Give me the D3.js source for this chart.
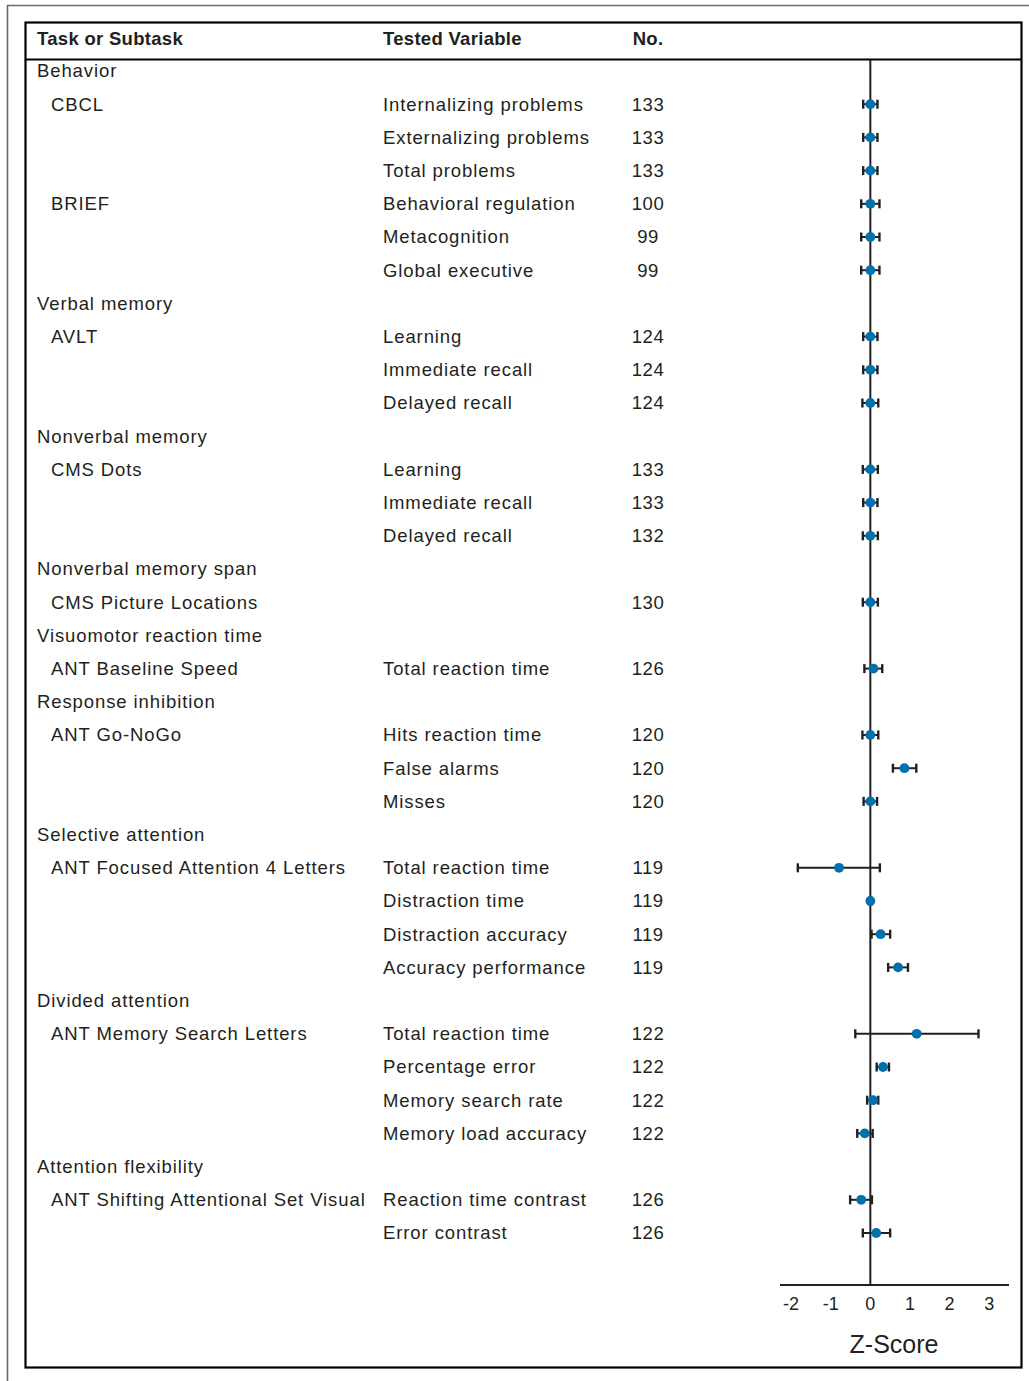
<!DOCTYPE html>
<html>
<head>
<meta charset="utf-8">
<script src="https://cdn.jsdelivr.net/npm/d3@7"></script>
<style>
  html, body { margin: 0; padding: 0; background: #fff; }
  svg { display: block; }
  text { font-family: "Liberation Sans", Arial, Helvetica, sans-serif; fill: #231f20; }
</style>
</head>
<body>
<script>
// Domains and how many tested rows belong to each
const domains = ["Behavior", "Verbal memory", "Nonverbal memory", "Nonverbal memory span",
  "Visuomotor reaction time", "Response inhibition", "Selective attention",
  "Divided attention", "Attention flexibility"];
const domainSizes = [6, 3, 3, 1, 1, 3, 4, 4, 2];

// Task (subtask) name, shown on the first row of each task
const tasks = ["CBCL", "", "", "BRIEF", "", "",
  "AVLT", "", "",
  "CMS Dots", "", "",
  "CMS Picture Locations",
  "ANT Baseline Speed",
  "ANT Go-NoGo", "", "",
  "ANT Focused Attention 4 Letters", "", "", "",
  "ANT Memory Search Letters", "", "", "",
  "ANT Shifting Attentional Set Visual", ""];

const variables = ["Internalizing problems", "Externalizing problems", "Total problems",
  "Behavioral regulation", "Metacognition", "Global executive",
  "Learning", "Immediate recall", "Delayed recall",
  "Learning", "Immediate recall", "Delayed recall",
  "",
  "Total reaction time",
  "Hits reaction time", "False alarms", "Misses",
  "Total reaction time", "Distraction time", "Distraction accuracy", "Accuracy performance",
  "Total reaction time", "Percentage error", "Memory search rate", "Memory load accuracy",
  "Reaction time contrast", "Error contrast"];

const counts = [133, 133, 133, 100, 99, 99,
  124, 124, 124,
  133, 133, 132,
  130,
  126,
  120, 120, 120,
  119, 119, 119, 119,
  122, 122, 122, 122,
  126, 126];

// Z-score estimates with 95% confidence limits
const zMean = [0, 0, 0, 0, 0, 0,
  0, 0, 0,
  0, 0, 0,
  0,
  0.08,
  0, 0.86, 0,
  -0.79, 0, 0.26, 0.70,
  1.17, 0.32, 0.07, -0.14,
  -0.23, 0.15];
const zLower = [-0.18, -0.18, -0.18, -0.23, -0.23, -0.23,
  -0.18, -0.18, -0.20,
  -0.19, -0.18, -0.19,
  -0.19,
  -0.15,
  -0.20, 0.57, -0.17,
  -1.83, -0.03, 0.03, 0.45,
  -0.38, 0.16, -0.08, -0.33,
  -0.51, -0.19];
const zUpper = [0.18, 0.18, 0.18, 0.23, 0.23, 0.23,
  0.18, 0.18, 0.20,
  0.19, 0.18, 0.19,
  0.19,
  0.30,
  0.20, 1.16, 0.17,
  0.24, 0.03, 0.50, 0.95,
  2.73, 0.47, 0.20, 0.06,
  0.04, 0.50];

const zTicks = [-2, -1, 0, 1, 2, 3];
const headers = ["Task or Subtask", "Tested Variable", "No."];

// Build the table layout: a header row per domain followed by its tested rows
const rows = [];
let k = 0;
domains.forEach((dname, di) => {
  rows.push({ type: "domain", label: dname });
  for (let j = 0; j < domainSizes[di]; j++, k++) {
    rows.push({ type: "data", task: tasks[k], variable: variables[k], n: counts[k],
      mean: zMean[k], lo: zLower[k], hi: zUpper[k] });
  }
});

const W = 1029, H = 1381;
const svg = d3.select("body").append("svg").attr("width", W).attr("height", H);

// Outer page rules
svg.append("path")
  .attr("d", "M7.5,1381 V5.5 H1029")
  .attr("fill", "none").attr("stroke", "#6b6b66").attr("stroke-width", 1.6);

// Figure frame
svg.append("rect")
  .attr("x", 25.5).attr("y", 22.5).attr("width", 996).attr("height", 1345)
  .attr("fill", "none").attr("stroke", "#000").attr("stroke-width", 2.2);
svg.append("line")
  .attr("x1", 25).attr("x2", 1022).attr("y1", 59.5).attr("y2", 59.5)
  .attr("stroke", "#000").attr("stroke-width", 2.2);

// Column headers
const colX = { task: 37, sub: 51, variable: 383, n: 648 };
const hdr = svg.append("g").attr("font-weight", "bold").attr("font-size", 18.5)
  .style("letter-spacing", "0.3px");
hdr.append("text").attr("x", colX.task).attr("y", 39).attr("dy", "0.35em").text(headers[0]);
hdr.append("text").attr("x", colX.variable).attr("y", 39).attr("dy", "0.35em").text(headers[1]);
hdr.append("text").attr("x", colX.n).attr("y", 39).attr("dy", "0.35em")
  .attr("text-anchor", "middle").text(headers[2]);

// Vertical position of each table row
const y = d3.scaleLinear().domain([0, rows.length - 1]).range([71, 1233]);
// Horizontal Z-score scale
const x = d3.scaleLinear().domain([-2.28, 3.5]).range([780, 1009]);

const body = svg.append("g").attr("font-size", 18.5).style("letter-spacing", "0.9px");
rows.forEach((r, i) => {
  const yy = y(i);
  if (r.type === "domain") {
    body.append("text").attr("x", colX.task).attr("y", yy).attr("dy", "0.35em").text(r.label);
  } else {
    if (r.task) body.append("text").attr("x", colX.sub).attr("y", yy).attr("dy", "0.35em").text(r.task);
    if (r.variable) body.append("text").attr("x", colX.variable).attr("y", yy).attr("dy", "0.35em").text(r.variable);
    body.append("text").attr("x", colX.n).attr("y", yy).attr("dy", "0.35em")
      .attr("text-anchor", "middle").style("letter-spacing", "0.5px").text(r.n);
  }
});

// Axis baseline and zero reference line
const axisY = 1285;
svg.append("line").attr("x1", 780).attr("x2", 1009).attr("y1", axisY).attr("y2", axisY)
  .attr("stroke", "#231f20").attr("stroke-width", 2);
svg.append("line").attr("x1", x(0)).attr("x2", x(0)).attr("y1", 60).attr("y2", axisY)
  .attr("stroke", "#231f20").attr("stroke-width", 2);

// Tick labels
svg.append("g").selectAll("text").data(zTicks).join("text")
  .attr("x", d => x(d)).attr("y", 1304).attr("dy", "0.35em")
  .attr("text-anchor", "middle").attr("font-size", 18)
  .text(d => d);

svg.append("text").attr("x", 894).attr("y", 1344).attr("dy", "0.35em")
  .attr("text-anchor", "middle").attr("font-size", 25).text("Z-Score");

// Confidence intervals and point estimates
const dataRows = rows.map((r, i) => ({ ...r, i })).filter(r => r.type === "data");
const marks = svg.append("g");
const ci = marks.selectAll("g.ci").data(dataRows).join("g").attr("class", "ci");
ci.append("line")
  .attr("x1", d => x(d.lo)).attr("x2", d => x(d.hi))
  .attr("y1", d => y(d.i)).attr("y2", d => y(d.i))
  .attr("stroke", "#231f20").attr("stroke-width", 2);
["lo", "hi"].forEach(end => {
  ci.append("line")
    .attr("x1", d => x(d[end])).attr("x2", d => x(d[end]))
    .attr("y1", d => y(d.i) - 4.5).attr("y2", d => y(d.i) + 4.5)
    .attr("stroke", "#231f20").attr("stroke-width", 2.4);
});
marks.selectAll("circle").data(dataRows).join("circle")
  .attr("cx", d => x(d.mean)).attr("cy", d => y(d.i)).attr("r", 4.9)
  .attr("fill", "#0071ad");
</script>
</body>
</html>
